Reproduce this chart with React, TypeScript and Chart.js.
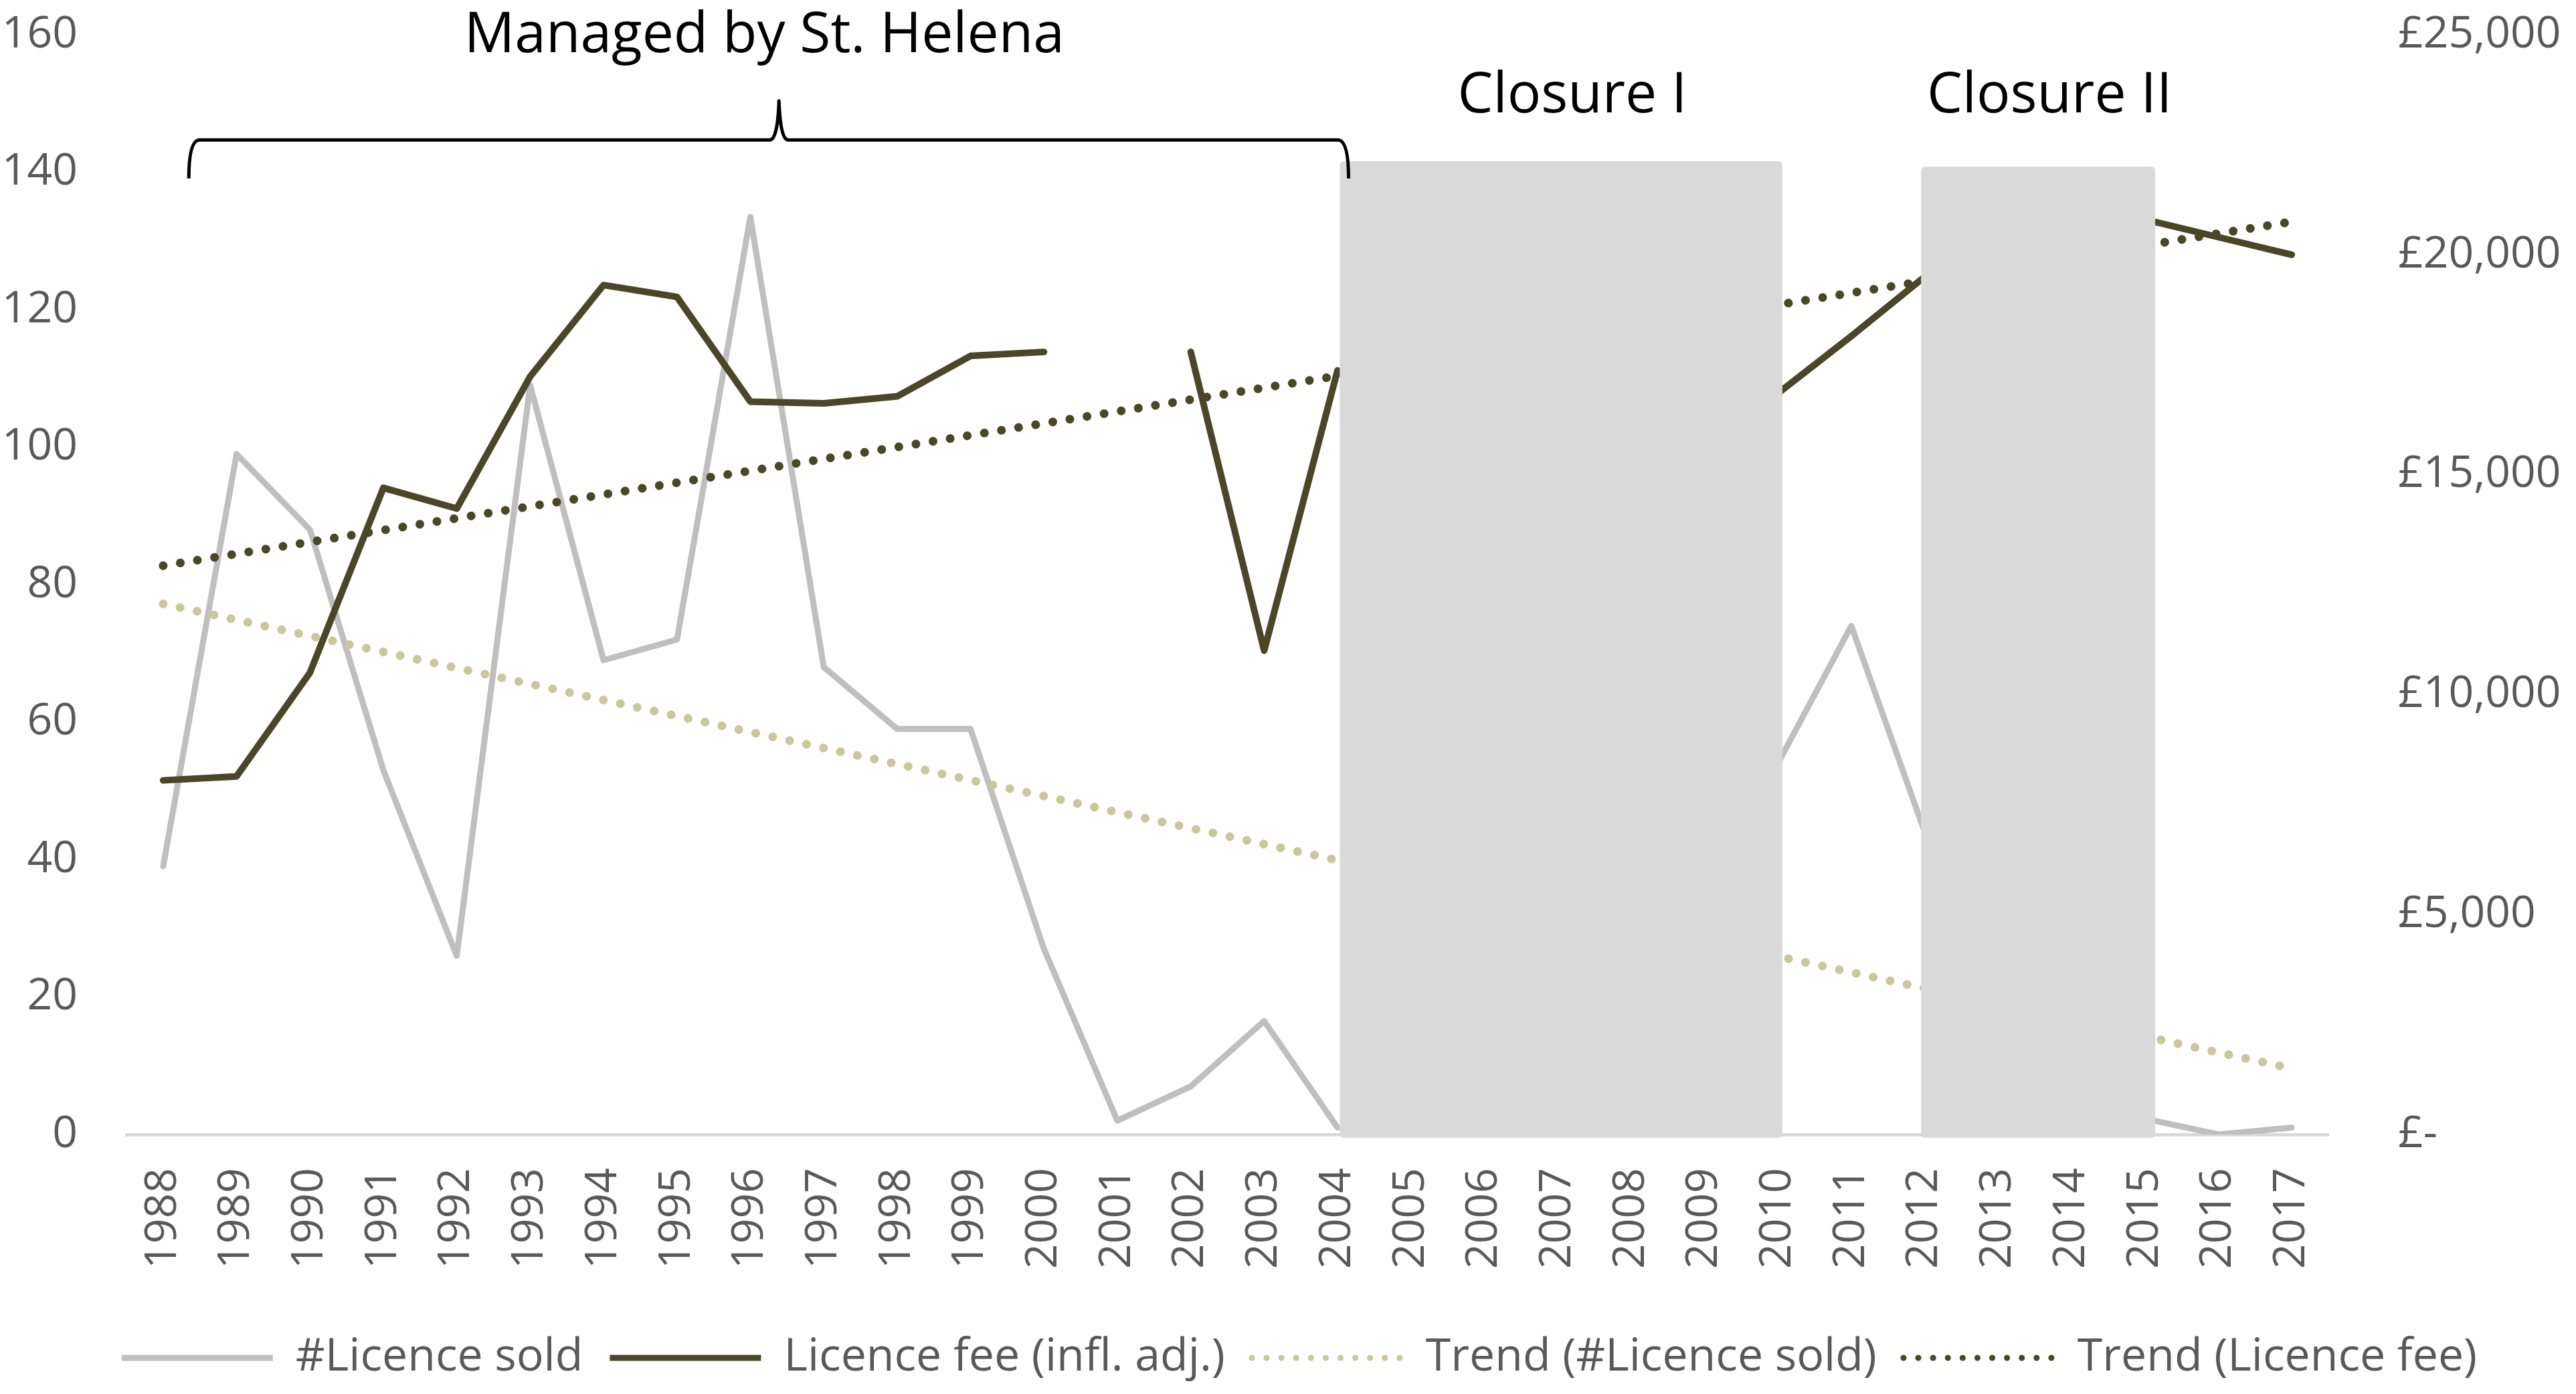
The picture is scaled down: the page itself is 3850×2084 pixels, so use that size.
import React, { useEffect, useRef } from "react";
import { Chart, registerables, Plugin } from "chart.js";

Chart.register(...registerables);

const years = [
  "1988", "1989", "1990", "1991", "1992", "1993", "1994", "1995", "1996", "1997",
  "1998", "1999", "2000", "2001", "2002", "2003", "2004", "2005", "2006", "2007",
  "2008", "2009", "2010", "2011", "2012", "2013", "2014", "2015", "2016", "2017",
];

// number of licences sold (left axis); years hidden under the grey boxes are left empty
const licencesSold = [
  39, 99, 88, 53, 26, 109, 69, 72, 133.5, 68,
  59, 59, 27, 2, 7, 16.5, 1, null, null, null,
  null, null, 54, 74, 44, null, null, 2.3, 0, 1,
];

// licence fee, inflation adjusted, in £ (right axis)
const licenceFee = [
  8050, 8140, 10500, 14700, 14230, 17230, 19310, 19040, 16660, 16620,
  16780, 17700, 17790, null, 17790, 11000, 17370, null, null, null,
  null, null, 16850, 18150, 19500, null, null, 20800, 20400, 20000,
];

// straight trend lines, read at both ends
const trendYears = ["1988", "2017"];
const trendSold = [77.2, 9.6];
const trendFee = [12930, 20750];

const leftTicks = [0, 20, 40, 60, 80, 100, 120, 140, 160];
const rightTicks = [0, 5000, 10000, 15000, 20000, 25000];

const closureLabels = ["Closure I", "Closure II"];

const GREY = "#bfbfbf";
const DARK = "#4b4628";
const KHAKI = "#ccc69c";
const BOX = "#d9d9d9";
const TICK = "#595959";
const FONT = "'Open Sans', sans-serif";
const DOTS = [0.1, 25.8];

// grey boxes, in category index units
const closureBoxes = [
  { from: 16.03, to: 22.06, top: 141.6 },
  { from: 23.95, to: 27.14, top: 140.8 },
];

const annotations: Plugin<"line"> = {
  id: "annotations",
  afterLayout(chart) {
    // legend sits a little right of centre in the original
    if (chart.legend) {
      chart.legend.left += 17;
      chart.legend.right += 17;
    }
  },
  afterDatasetsDraw(chart) {
    const { ctx } = chart;
    const x = chart.scales.x;
    const y = chart.scales.y;
    ctx.save();

    closureBoxes.forEach((b, i) => {
      const left = x.getPixelForValue(b.from);
      const right = x.getPixelForValue(b.to);
      const top = y.getPixelForValue(b.top);
      const bottom = y.getPixelForValue(0) + 5;
      ctx.fillStyle = BOX;
      ctx.beginPath();
      ctx.roundRect(left, top, right - left, bottom - top, 6);
      ctx.fill();

      ctx.fillStyle = "#000";
      ctx.font = `84px ${FONT}`;
      ctx.textAlign = "center";
      ctx.textBaseline = "alphabetic";
      ctx.fillText(closureLabels[i], (left + right) / 2 + 17, y.getPixelForValue(148.7));
    });

    // curly brace over the St. Helena years
    const bl = x.getPixelForValue(0.35);
    const br = x.getPixelForValue(16.15);
    const tip = x.getPixelForValue(8.39);
    const yh = y.getPixelForValue(144.7);
    const ye = y.getPixelForValue(139.1);
    const yt = y.getPixelForValue(150.4);
    ctx.strokeStyle = "#000";
    ctx.lineWidth = 5;
    ctx.lineJoin = "round";
    ctx.beginPath();
    ctx.moveTo(bl, ye);
    ctx.quadraticCurveTo(bl, yh, bl + 16, yh);
    ctx.lineTo(tip - 14, yh);
    ctx.quadraticCurveTo(tip - 2, yh, tip, yt);
    ctx.quadraticCurveTo(tip + 2, yh, tip + 14, yh);
    ctx.lineTo(br - 16, yh);
    ctx.quadraticCurveTo(br, yh, br, ye);
    ctx.stroke();

    ctx.fillStyle = "#000";
    ctx.font = `84px ${FONT}`;
    ctx.textAlign = "center";
    ctx.fillText("Managed by St. Helena", x.getPixelForValue(8.19), y.getPixelForValue(157.5));

    ctx.restore();
  },
};

const App: React.FC = () => {
  const canvasRef = useRef<HTMLCanvasElement | null>(null);

  useEffect(() => {
    if (!canvasRef.current) return;
    Chart.defaults.font.family = FONT;

    const chart = new Chart(canvasRef.current, {
      type: "line",
      data: {
        labels: years,
        datasets: [
          {
            label: "#Licence sold",
            data: licencesSold,
            yAxisID: "y",
            borderColor: GREY,
            backgroundColor: GREY,
            borderWidth: 9,
            borderJoinStyle: "round",
            borderCapStyle: "round",
            pointRadius: 0,
            order: 4,
          },
          {
            label: "Licence fee (infl. adj.)",
            data: licenceFee,
            yAxisID: "y1",
            borderColor: DARK,
            backgroundColor: DARK,
            borderWidth: 10,
            borderJoinStyle: "round",
            borderCapStyle: "round",
            pointRadius: 0,
            order: 3,
          },
          {
            label: "Trend (#Licence sold)",
            data: trendYears.map((yr, i) => ({ x: yr, y: trendSold[i] })),
            yAxisID: "y",
            borderColor: KHAKI,
            backgroundColor: KHAKI,
            borderWidth: 13,
            borderDash: DOTS,
            borderCapStyle: "round",
            pointRadius: 0,
            order: 2,
          },
          {
            label: "Trend (Licence fee)",
            data: trendYears.map((yr, i) => ({ x: yr, y: trendFee[i] })),
            yAxisID: "y1",
            borderColor: DARK,
            backgroundColor: DARK,
            borderWidth: 13,
            borderDash: DOTS,
            borderCapStyle: "round",
            pointRadius: 0,
            order: 1,
          },
        ],
      },
      options: {
        animation: false,
        responsive: true,
        maintainAspectRatio: false,
        layout: { padding: { top: 44, bottom: 2, left: 0, right: 0 } },
        plugins: {
          tooltip: { enabled: false },
          legend: {
            position: "bottom",
            labels: {
              usePointStyle: true,
              pointStyle: "line",
              pointStyleWidth: 226,
              padding: 40,
              color: TICK,
              font: { size: 68, family: FONT },
              sort: (a, b) => (a.datasetIndex ?? 0) - (b.datasetIndex ?? 0),
              generateLabels: (c) =>
                Chart.defaults.plugins.legend.labels.generateLabels(c).map((item) => {
                  const ds = c.data.datasets[item.datasetIndex ?? 0] as any;
                  const dotted = Array.isArray(ds.borderDash);
                  return {
                    ...item,
                    lineDash: dotted ? [0.1, 22] : [],
                    lineCap: dotted ? "round" : "butt",
                    lineWidth: 9,
                  };
                }),
            },
          },
        },
        scales: {
          x: {
            offset: true,
            grid: { display: false, drawTicks: false },
            border: { display: true, color: BOX, width: 5 },
            ticks: {
              color: TICK,
              font: { size: 66, family: FONT },
              padding: 50,
              minRotation: 90,
              maxRotation: 90,
              autoSkip: false,
            },
            afterFit: (s) => {
              s.height = 260;
            },
          },
          y: {
            position: "left",
            min: 0,
            max: 160,
            grid: { display: false, drawTicks: false },
            border: { display: false },
            afterBuildTicks: (s) => {
              s.ticks = leftTicks.map((v) => ({ value: v }));
            },
            ticks: {
              color: TICK,
              font: { size: 66, family: FONT },
              padding: 73,
            },
            afterFit: (s) => {
              s.width = 181;
              s.paddingTop = 0;
              s.paddingBottom = 0;
            },
          },
          y1: {
            position: "right",
            min: 0,
            max: 25000,
            grid: { display: false, drawTicks: false },
            border: { display: false },
            afterBuildTicks: (s) => {
              s.ticks = rightTicks.map((v) => ({ value: v }));
            },
            ticks: {
              color: TICK,
              font: { size: 66, family: FONT },
              padding: 104,
              callback: (v) =>
                Number(v) === 0 ? "£-" : "£" + Number(v).toLocaleString("en-GB"),
            },
            afterFit: (s) => {
              s.width = 362;
              s.paddingTop = 0;
              s.paddingBottom = 0;
            },
          },
        },
      },
      plugins: [annotations],
    });

    return () => {
      chart.destroy();
    };
  }, []);

  return (
    <div style={{ width: 3834, height: 2068, position: "relative", background: "#fff" }}>
      <canvas ref={canvasRef}></canvas>
    </div>
  );
};

export default App;
